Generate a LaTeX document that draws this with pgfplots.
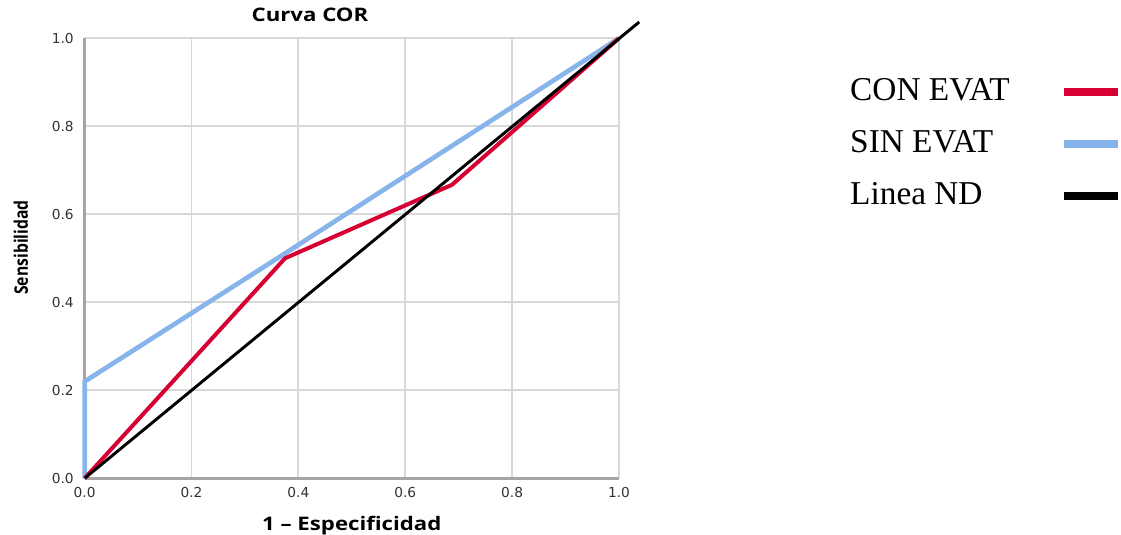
\documentclass[border=0pt]{standalone}
\usepackage{fontspec}
\setmainfont{Liberation Serif}
\newfontfamily\labfont{Open Sans}
\newfontfamily\tickfont{DejaVu Sans}
\usepackage{graphicx}
\usepackage{pgfplots}
\pgfplotsset{compat=1.18}
\definecolor{conred}{RGB}{214,0,50}
\definecolor{sinblue}{RGB}{135,180,235}
\definecolor{gridgray}{RGB}{216,216,216}
\definecolor{axgray}{RGB}{165,165,165}
\definecolor{ticktext}{RGB}{50,50,50}
\begin{document}
\begin{tikzpicture}
\begin{axis}[
  scale only axis, width=400.7pt, height=330pt,
  xmin=0, xmax=1, ymin=0, ymax=1,
  clip=false,
  axis x line=bottom, axis y line=left,
  axis line style={axgray, line width=2pt, -},
  grid=major, major grid style={gridgray, line width=1.4pt},
  major tick length=0pt,
  xtick={0,0.2,0.4,0.6,0.8,1}, xticklabels={0.0,0.2,0.4,0.6,0.8,1.0},
  ytick={0,0.2,0.4,0.6,0.8,1}, yticklabels={0.0,0.2,0.4,0.6,0.8,1.0},
  tick label style={font=\tickfont\fontsize{10.3}{11}\selectfont, text=ticktext, inner sep=0pt},
  xticklabel style={yshift=-6.5pt},
  yticklabel style={xshift=-8pt},
  title={\scalebox{1.19}[1]{Curva COR}},
  title style={at={(0.4217,1.0188)}, anchor=base, inner sep=0pt, font=\labfont\bfseries\fontsize{14}{14}\selectfont},
  xlabel={\scalebox{1.19}[1]{1 – Especificidad}},
  xlabel style={at={(0.5,-0.1176)}, anchor=base, inner sep=0pt, font=\labfont\bfseries\fontsize{14}{14}\selectfont},
  ylabel={\scalebox{0.84}[1]{Sensibilidad}},
  ylabel style={at={(-0.1061,0.5245)}, anchor=base, inner sep=0pt, font=\labfont\bfseries\fontsize{14}{14}\selectfont},
  legend plot pos=right,
  legend cell align=left,
  legend image code/.code={\path[draw=none, fill=none] (0pt,-2pt) -- (1pt,-2pt);
    \draw[#1, line width=6pt] (41pt,-2pt) -- (81pt,-2pt);},
  legend style={at={(1.4323,0.91)}, anchor=north west, draw=none, fill=none,
    inner sep=0pt, font=\fontsize{25}{25}\selectfont,
    nodes={inner sep=0pt, text height=16.5pt, text depth=0pt},
    row sep=22.5pt},
]
\addplot[sinblue, line width=3.5pt, forget plot] coordinates {(0,0) (0,0.22) (0.38,0.515) (1,1)};
\addplot[conred, line width=3pt, forget plot] coordinates {(0,0) (0.375,0.5) (0.6875,0.667) (1,1)};
\addplot[black, line width=2.2pt, forget plot] coordinates {(0,0) (1.038,1.037)};
\addlegendimage{conred}
\addlegendentry{CON EVAT}
\addlegendimage{sinblue}
\addlegendentry{SIN EVAT}
\addlegendimage{black}
\addlegendentry{Linea ND}
\end{axis}
\pgfresetboundingbox
\path[use as bounding box] (-63.5pt,-42.5pt) rectangle (777.2pt,358.7pt);
\end{tikzpicture}
\end{document}
